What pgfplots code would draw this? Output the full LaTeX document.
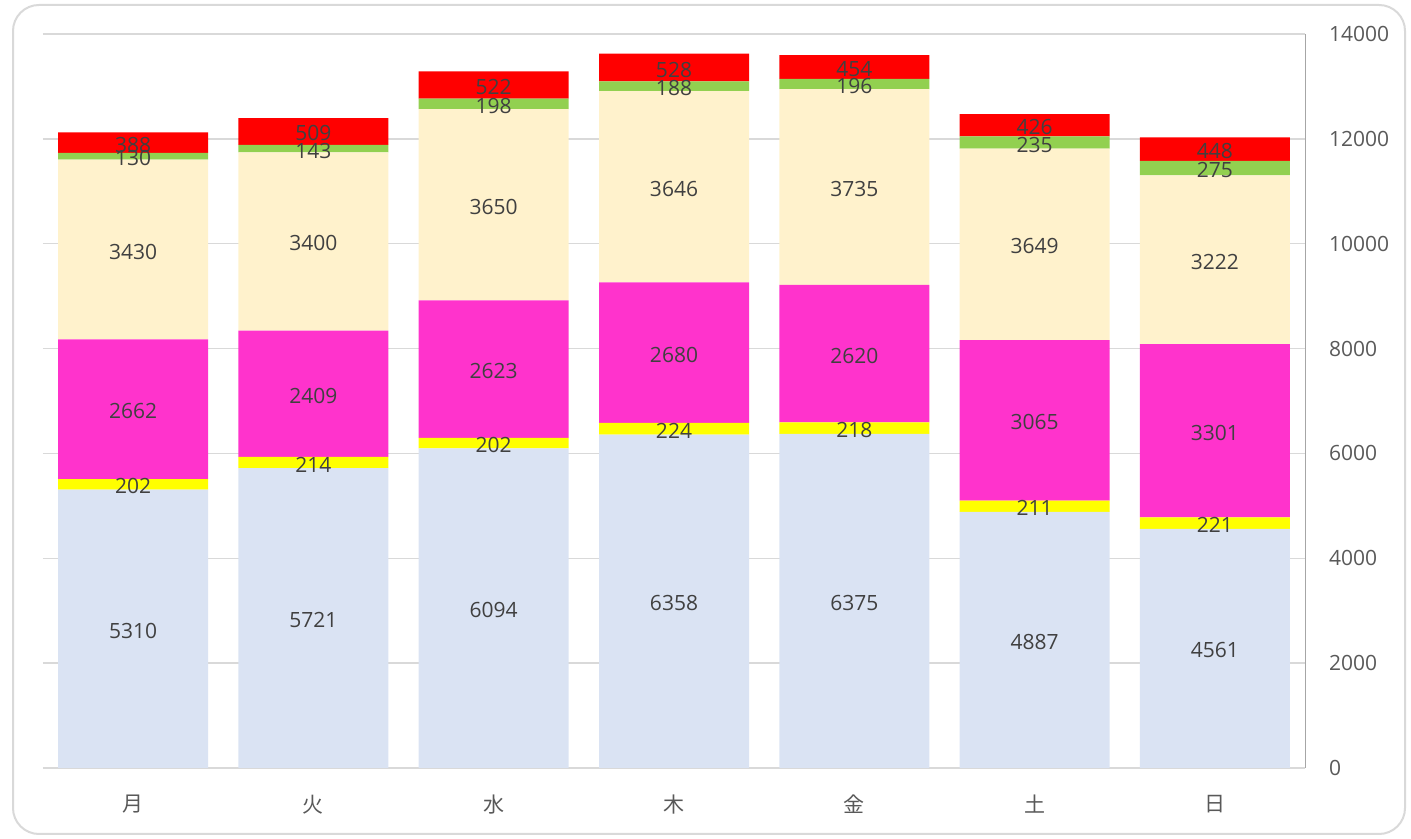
\documentclass[border=0pt]{standalone}
\usepackage{pgfplots}
\pgfplotsset{compat=1.18}
\usepackage{pgfplotstable}
\usepackage{fontspec}
\setmainfont{Open Sans}
\newfontfamily\cjk{Noto Sans CJK JP}

\definecolor{cA}{HTML}{DAE3F3}
\definecolor{cB}{HTML}{FFFF00}
\definecolor{cC}{HTML}{FF33CC}
\definecolor{cD}{HTML}{FFF2CC}
\definecolor{cE}{HTML}{92D050}
\definecolor{cF}{HTML}{FF0000}
\definecolor{gridc}{HTML}{D9D9D9}
\definecolor{tickc}{HTML}{595959}
\definecolor{labc}{HTML}{404040}

% x = weekday index; a..f = stacked segments, bottom to top
\pgfplotstableread{
x a    b   c    d    e   f
0 5310 202 2662 3430 130 388
1 5721 214 2409 3400 143 509
2 6094 202 2623 3650 198 522
3 6358 224 2680 3646 188 528
4 6375 218 2620 3735 196 454
5 4887 211 3065 3649 235 426
6 4561 221 3301 3222 275 448
}\data

% one stacked segment with its value as label
\newcommand{\seg}[2]{%
  \addplot[fill=#1, draw=none, point meta=explicit]
    table[x=x, y=#2, meta=#2] {\data};
}

\begin{document}
\begin{tikzpicture}
\path[use as bounding box] (-21.5pt,-35.5pt) rectangle (684pt,384pt);
\draw[gridc, line width=1pt, rounded corners=13pt] (-15pt,-33pt) rectangle (681pt,381.5pt);
\begin{axis}[
  at={(0pt,0pt)}, anchor=south west,
  scale only axis,
  width=631pt, height=367pt,
  ybar stacked,
  bar width=75pt,
  xmin=-0.5, xmax=6.5,
  ymin=0, ymax=14000,
  xtick=data,
  xticklabels={月,火,水,木,金,土,日},
  xticklabel style={font=\cjk\fontsize{10.5}{12}\selectfont, text=tickc, yshift=-10pt},
  ytick={0,2000,...,14000},
  scaled y ticks=false,
  yticklabel style={font=\fontsize{10.5}{12}\selectfont, text=tickc, anchor=west, xshift=8.5pt},
  /pgf/number format/assume math mode=true,
  /pgf/number format/1000 sep={},
  axis x line*=bottom,
  axis y line*=right,
  x axis line style={-, draw=gridc, line width=0.75pt},
  y axis line style={-, draw=gray!70, line width=0.5pt},
  major tick length=0pt,
  ymajorgrids,
  grid style={gridc, line width=0.75pt},
  nodes near coords,
  every node near coord/.append style={
    font=\fontsize{10.5}{12}\selectfont, text=labc,
    anchor=center, inner sep=0pt, yshift=-1pt,
  },
]
\seg{cA}{a}
\seg{cB}{b}
\seg{cC}{c}
\seg{cD}{d}
\seg{cE}{e}
\seg{cF}{f}
\end{axis}
\end{tikzpicture}
\end{document}
